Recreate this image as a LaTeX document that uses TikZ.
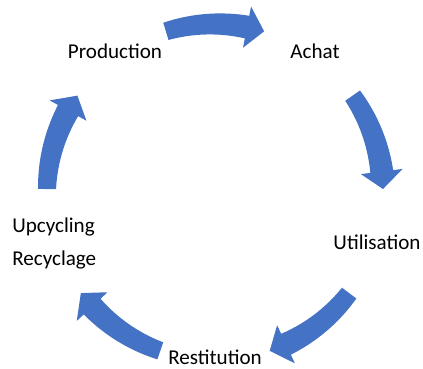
\documentclass[tikz,border=0pt]{standalone}
\usepackage{fontspec}
\setmainfont{Carlito}
\definecolor{cycleblue}{HTML}{4472C4}

\begin{document}
\begin{tikzpicture}[x=0.025cm, y=0.025cm, every node/.style={font=\fontsize{15}{23}\selectfont, inner sep=0pt}]
    \useasboundingbox (0,0) rectangle (423,369);
    % Centre of the cycle
    \coordinate (O) at (215,177);
    % Curved arrows, one between each pair of steps
    \foreach \m in {90,18,-54,-126,-198}
    {
        \pgfmathsetmacro{\s}{\m+17}
        \pgfmathsetmacro{\b}{\m-11}
        \pgfmathsetmacro{\e}{\m-17}
        \fill[cycleblue, shift={(O)}]
            plot[domain=\s:\b, samples=20] (\x:{168+9+2.5*(\s-\x)/(\s-\b)})
            -- (\b:189) -- (\e:168) -- (\b:147)
            -- plot[domain=\b:\s, samples=20] (\x:{168-9-2.5*(\s-\x)/(\s-\b)})
            -- cycle;
    }
    % Steps
    \node[anchor=base] (production) at (115,310) {Production};
    \node[anchor=base] (achat) at (315,310) {Achat};
    \node[anchor=base] (utilisation) at (377,119) {Utilisation};
    \node[anchor=base] (restitution) at (215,4.5) {Restitution};
    \node[anchor=base west] (upcycling) at (12,136) {Upcycling};
    \node[anchor=base west] (recyclage) at (12,103) {Recyclage};
\end{tikzpicture}
\end{document}
